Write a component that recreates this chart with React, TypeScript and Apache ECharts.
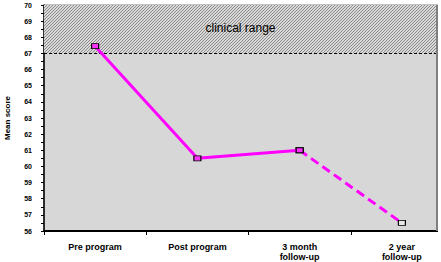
import React, { useEffect, useRef } from "react";
import * as echarts from "echarts";

const categories = ["Pre program", "Post program", "3 month\nfollow-up", "2 year\nfollow-up"];
const solidValues: (number | string)[] = [67.45, 60.5, 61.0, "-"];
const dashedValues: (number | string)[] = ["-", "-", 61.0, 56.5];
const yMin = 56;
const yMax = 70;
const clinicalThreshold = 67;
const clinicalLabel = "clinical range";
const yAxisName = "Mean score";

function makeHatch(): HTMLCanvasElement {
  const c = document.createElement("canvas");
  c.width = 3;
  c.height = 3;
  const ctx = c.getContext("2d")!;
  for (let x = 0; x < 3; x++) {
    for (let y = 0; y < 3; y++) {
      ctx.fillStyle = (x + y) % 3 === 0 ? "#8c8c8c" : "#d8d8d8";
      ctx.fillRect(x, y, 1, 1);
    }
  }
  return c;
}

export default function App() {
  const ref = useRef<HTMLDivElement>(null);
  useEffect(() => {
    if (!ref.current) return;
    const chart = echarts.init(ref.current, undefined, { renderer: "svg" });
    const hatch = makeHatch();
    const font = "'Liberation Sans', Arial, sans-serif";
    chart.setOption({
      animation: false,
      backgroundColor: "#ffffff",
      grid: {
        left: 44,
        top: 5,
        width: 409,
        height: 226,
        outerBoundsMode: "none",
        containLabel: false,
        show: true,
        backgroundColor: "#d7d7d7",
        borderColor: "#808080",
        borderWidth: 1,
      },
      xAxis: {
        type: "category",
        data: categories,
        boundaryGap: true,
        axisLine: { lineStyle: { color: "#000", width: 2 } },
        axisTick: { show: true, length: 4, lineStyle: { color: "#000" } },
        axisLabel: {
          interval: 0,
          fontSize: 9,
          fontWeight: "bold",
          fontFamily: font,
          color: "#000",
          lineHeight: 10,
          margin: 11,
        },
      },
      yAxis: {
        type: "value",
        min: yMin,
        max: yMax,
        interval: 1,
        name: yAxisName,
        nameLocation: "middle",
        nameGap: 33,
        nameRotate: 90,
        nameTextStyle: { fontSize: 8, fontWeight: "bold", fontFamily: font, color: "#000" },
        axisLine: { show: true, lineStyle: { color: "#000", width: 1.5 } },
        axisTick: { show: true, length: 3, lineStyle: { color: "#000" } },
        minorTick: { show: true, splitNumber: 2, length: 3, lineStyle: { color: "#000" } },
        splitLine: { show: false },
        axisLabel: {
          fontSize: 7,
          fontWeight: "bold",
          fontFamily: font,
          color: "#000",
          margin: 12,
        },
      },
      series: [
        {
          type: "line",
          data: solidValues,
          z: 5,
          symbol: "rect",
          symbolSize: [7, 5],
          lineStyle: { color: "#ff00ff", width: 3 },
          itemStyle: { color: "#ff33ff", borderColor: "#000", borderWidth: 1 },
          markArea: {
            silent: true,
            itemStyle: {
              color: { image: hatch, repeat: "repeat", imageWidth: 3, imageHeight: 3 },
            },
            label: {
              show: true,
              position: "inside",
              formatter: clinicalLabel,
              fontSize: 12,
              fontFamily: font,
              color: "#000",
              offset: [-8, -1],
            },
            data: [[{ yAxis: clinicalThreshold }, { yAxis: yMax }]],
          },
          markLine: {
            silent: true,
            symbol: "none",
            label: { show: false },
            lineStyle: { color: "#000", width: 1, type: [3, 2] },
            data: [{ yAxis: clinicalThreshold }],
          },
        },
        {
          type: "line",
          data: dashedValues,
          z: 4,
          symbol: "rect",
          symbolSize: [7, 5],
          showAllSymbol: true,
          lineStyle: { color: "#ff00ff", width: 3, type: [9, 5] },
          itemStyle: { color: "#e8e8e8", borderColor: "#000", borderWidth: 1 },
        },
      ],
      graphic: [
        {
          type: "rect",
          z: 100,
          shape: { x: 438, y: 0, width: 10, height: 262 },
          style: { fill: "#ffffff" },
        },
        {
          type: "line",
          z: 101,
          shape: { x1: 437, y1: 5, x2: 437, y2: 231 },
          style: { stroke: "#808080", lineWidth: 2 },
        },
      ],
    });
    return () => chart.dispose();
  }, []);
  return (
    <div
      ref={ref}
      style={{ position: "fixed", left: 0, top: 0, width: 441, height: 262 }}
    />
  );
}
